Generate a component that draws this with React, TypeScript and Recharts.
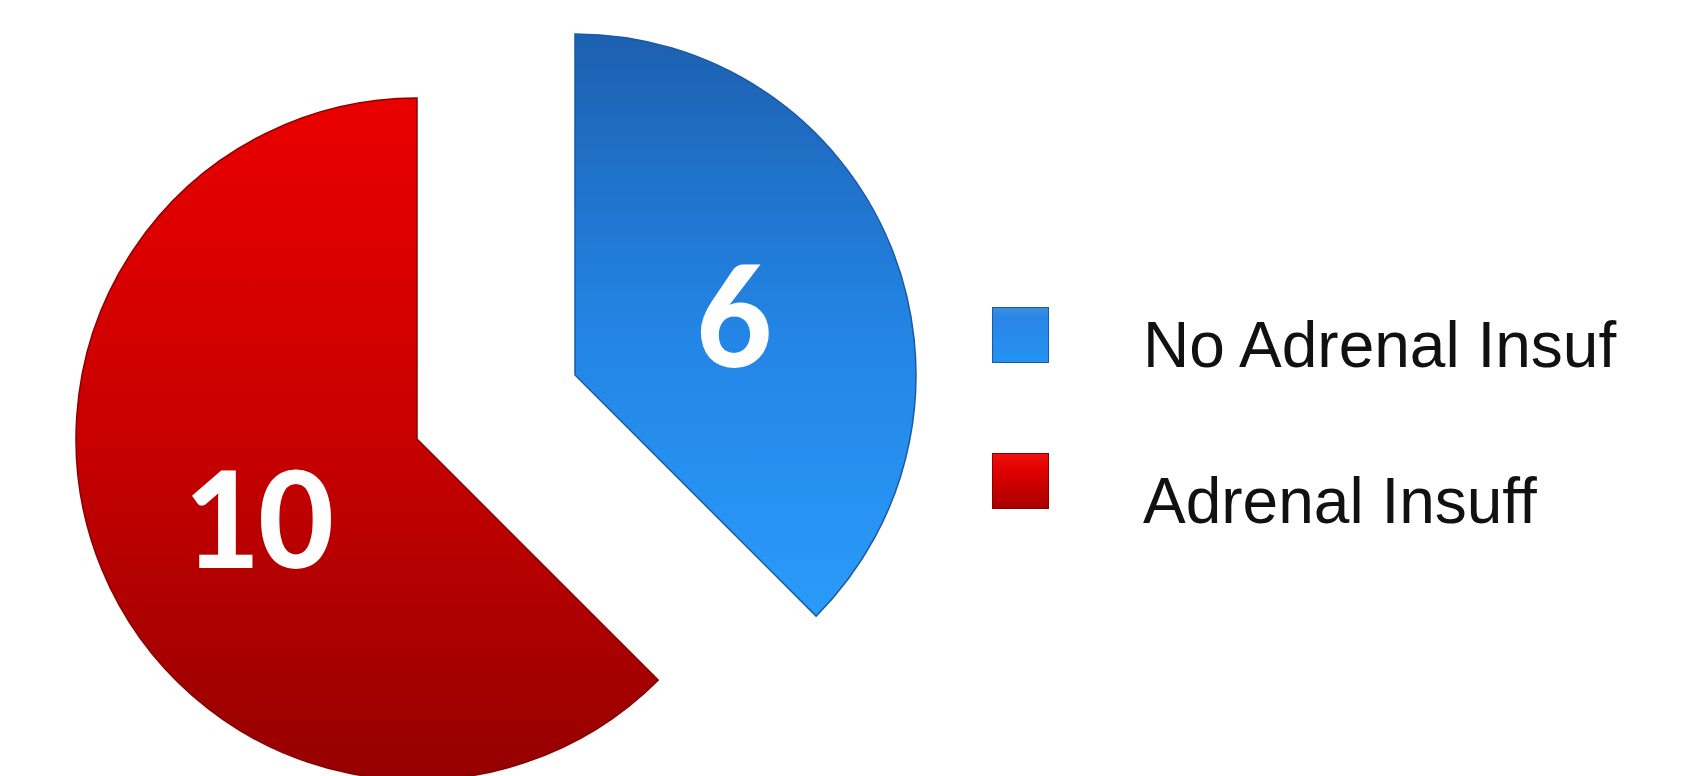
import React from 'react';
import { PieChart, Pie, Cell, Legend } from 'recharts';

// Slice data
const categories = ['No Adrenal Insuf', 'Adrenal Insuff'];
const counts = [6, 10];
const gradientIds = ['gradBlue', 'gradRed'];
const edgeColors = ['#1a5aa6', '#8a0000'];

const data = categories.map((name, i) => ({ name, value: counts[i] }));

const RADIAN = Math.PI / 180;

// one Pie per exploded slice, the other slice left unpainted
const slicePositions = [
  { cx: 575, cy: 375 },
  { cx: 417, cy: 439 },
];
const labelShiftY = [6, 12];

const makeLabel = (visibleIndex: number) => (props: any) => {
  const { cx, cy, midAngle, index, value } = props;
  if (index !== visibleIndex) return null;
  const r = 172;
  const x = cx + r * Math.cos(-midAngle * RADIAN);
  const y = cy + r * Math.sin(-midAngle * RADIAN) + labelShiftY[index];
  return (
    <text
      x={x}
      y={y}
      fill="#ffffff"
      textAnchor="middle"
      dominantBaseline="central"
      style={{ fontFamily: "Carlito, 'Open Sans', sans-serif", fontWeight: 700, fontSize: 150 }}
    >
      {value}
    </text>
  );
};

// legend rows: swatch top and text baseline
const swatchTops = [307, 453];
const textBaselines = [367, 523];

const LegendBox = () => (
  <svg width={700} height={300} style={{ position: 'absolute', left: 0, top: 0, overflow: 'visible' }}>
    {categories.map((name, i) => (
      <g key={name}>
        <rect
          x={992.5}
          y={swatchTops[i] + 0.5}
          width={56}
          height={55}
          fill={`url(#${gradientIds[i]}L)`}
          stroke={edgeColors[i]}
        />
        <text
          x={1143}
          y={textBaselines[i]}
          fill="#111"
          style={{ fontFamily: "'Liberation Sans', Arial, sans-serif", fontSize: 64 }}
        >
          {name}
        </text>
      </g>
    ))}
  </svg>
);

export default function App() {
  return (
    <div style={{ position: 'absolute', left: 0, top: 0 }}>
      <PieChart width={1690} height={776} margin={{ top: 0, right: 0, bottom: 0, left: 0 }}>
        <defs>
          <linearGradient id="gradBlue" x1="0" y1="0" x2="0" y2="1">
            <stop offset="0%" stopColor="#1d60b0" />
            <stop offset="50%" stopColor="#2384e4" />
            <stop offset="100%" stopColor="#2a9bfa" />
          </linearGradient>
          <linearGradient id="gradRed" x1="0" y1="0" x2="0" y2="1">
            <stop offset="0%" stopColor="#ea0000" />
            <stop offset="50%" stopColor="#c80000" />
            <stop offset="100%" stopColor="#960000" />
          </linearGradient>
          <linearGradient id="gradBlueL" x1="0" y1="0" x2="0" y2="1">
            <stop offset="0%" stopColor="#3a8fe0" />
            <stop offset="20%" stopColor="#2a86e6" />
            <stop offset="100%" stopColor="#2492f2" />
          </linearGradient>
          <linearGradient id="gradRedL" x1="0" y1="0" x2="0" y2="1">
            <stop offset="0%" stopColor="#f01010" />
            <stop offset="30%" stopColor="#e00000" />
            <stop offset="100%" stopColor="#a80000" />
          </linearGradient>
        </defs>
        {slicePositions.map((pos, k) => (
          <Pie
            key={k}
            data={data}
            dataKey="value"
            nameKey="name"
            cx={pos.cx}
            cy={pos.cy}
            outerRadius={341}
            startAngle={90}
            endAngle={-270}
            labelLine={false}
            label={makeLabel(k)}
            isAnimationActive={false}
            legendType="none"
          >
            {data.map((d, i) => (
              <Cell
                key={d.name}
                fill={i === k ? `url(#${gradientIds[i]})` : 'none'}
                stroke={i === k ? edgeColors[i] : 'none'}
                strokeWidth={1.5}
              />
            ))}
          </Pie>
        ))}
        <Legend
          content={() => <LegendBox />}
          wrapperStyle={{ position: 'absolute', left: 0, top: 0, width: 1690, height: 776, pointerEvents: 'none' }}
        />
      </PieChart>
    </div>
  );
}
